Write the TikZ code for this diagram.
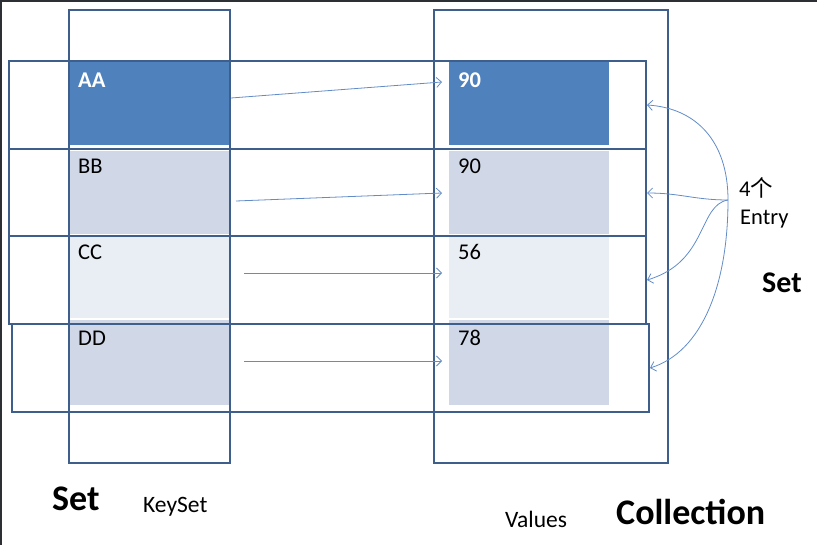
\documentclass[tikz,border=0pt]{standalone}
\usepackage{fontspec}
\setmainfont{Carlito}
\newfontfamily\cjk{Noto Sans CJK SC}
\usetikzlibrary{arrows.meta}
\definecolor{framecol}{RGB}{62,95,140}
\definecolor{linkcol}{RGB}{98,140,200}
\definecolor{darkcell}{RGB}{79,129,189}
\definecolor{midcell}{RGB}{208,216,232}
\definecolor{lightcell}{RGB}{233,237,244}
\definecolor{edgecol}{RGB}{44,48,53}
\tikzset{
  frame/.style={draw=framecol,line width=2.6pt},
  cell/.style={anchor=north west,inner sep=0pt,minimum width=159pt,minimum height=83pt},
  lbl/.style={anchor=base west,inner sep=0pt,font=\fontsize{22.5}{26}\selectfont},
  caption/.style={anchor=base west,inner sep=0pt,font=\fontsize{23.5}{27}\selectfont},
  big/.style={anchor=base west,inner sep=0pt,font=\fontsize{36}{40}\selectfont\bfseries},
  link/.style={linkcol,line width=0.8pt,-{Straight Barb[length=5pt,width=10pt]}},
}
\begin{document}
\begin{tikzpicture}[x=1pt,y=-1pt]
    \useasboundingbox (0,0) rectangle (817,545);
    \fill[edgecol] (0,0) rectangle (817,2);
    \fill[edgecol] (0,0) rectangle (2,545);
    % cells
    \node[cell,fill=darkcell] (kA) at (70,62) {};
    \node[cell,fill=midcell] (kB) at (70,151) {};
    \node[cell,fill=lightcell,minimum height=81pt] (kC) at (70,237) {};
    \node[cell,fill=midcell,minimum height=85pt] (kD) at (70,320) {};
    \node[cell,fill=darkcell,minimum width=160pt] (vA) at (449,62) {};
    \node[cell,fill=midcell,minimum width=160pt] (vB) at (449,151) {};
    \node[cell,fill=lightcell,minimum width=160pt,minimum height=81pt] (vC) at (449,237) {};
    \node[cell,fill=midcell,minimum width=160pt,minimum height=85pt] (vD) at (449,320) {};
    % frames
    \draw[frame] (69,10) rectangle (230,463);
    \draw[frame] (434,10) rectangle (668,463);
    \draw[frame] (9,61) rectangle (646,149);
    \draw[frame] (9,149) rectangle (646,236);
    \draw[frame] (9,236) rectangle (646,324);
    \draw[frame] (12,324) rectangle (649,412);
    % labels
    \node[lbl,white,font=\fontsize{22.5}{26}\selectfont\bfseries] (tA) at (78,88) {AA};
    \node[lbl,white,font=\fontsize{22.5}{26}\selectfont\bfseries] (uA) at (458,88) {90};
    \node[lbl] (tB) at (78,174) {BB};
    \node[lbl] (uB) at (458,174) {90};
    \node[lbl] (tC) at (78,260) {CC};
    \node[lbl] (uC) at (458,260) {56};
    \node[lbl] (tD) at (78,346) {DD};
    \node[lbl] (uD) at (458,346) {78};
    % key -> value
    \coordinate (a1) at (231,98);  \coordinate (b1) at (442,82);
    \coordinate (a2) at (236,201); \coordinate (b2) at (442,193);
    \coordinate (a3) at (244,273); \coordinate (b3) at (442,273);
    \coordinate (a4) at (244,361); \coordinate (b4) at (442,361);
    \draw[link] (a1) -- (b1);
    \draw[link] (a2) -- (b2);
    \draw[link] (a3) -- (b3);
    \draw[link] (a4) -- (b4);
    % entries
    \coordinate (hub) at (728,200);
    \coordinate (e1) at (647,105);
    \coordinate (e2) at (647,193);
    \coordinate (e3) at (647,280);
    \coordinate (e4) at (650,368);
    \draw[link] (hub) .. controls (728,140) and (695,108) .. (e1);
    \draw[link] (hub) .. controls (695,200) and (680,193) .. (e2);
    \draw[link] (hub) .. controls (698,205) and (708,262) .. (e3);
    \draw[link] (hub) .. controls (728,285) and (702,352) .. (e4);
    \node[lbl] (cnt) at (739,197) {4{\cjk 个}};
    \node[lbl] (ent) at (740,225) {Entry};
    \node[big,font=\fontsize{30}{34}\selectfont\bfseries] (set2) at (762,293) {Set};
    \node[big] (set1) at (52,510) {Set};
    \node[caption] (ks) at (143,512) {KeySet};
    \node[caption] (vs) at (505,527) {Values};
    \node[big] (coll) at (616,524) {Collection};
\end{tikzpicture}
\end{document}
